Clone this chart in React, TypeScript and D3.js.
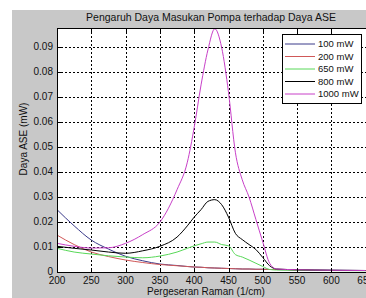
import * as d3 from 'd3';

// Raman shift (1/cm)
const shift = [200, 225, 250, 275, 300, 325, 350, 375, 390, 400, 410, 420, 430, 440, 450, 460, 470, 480, 490, 500, 510, 520, 550, 600, 650, 700];

const p100 = [0.025, 0.0185, 0.0128, 0.0092, 0.0063, 0.0045, 0.0032, 0.0026, 0.0022, 0.002, 0.0019, 0.0017, 0.0016, 0.0015, 0.0014, 0.0013, 0.0012, 0.0012, 0.0011, 0.0011, 0.001, 0.001, 0.0008, 0.0007, 0.0006, 0.0006];
const p200 = [0.0148, 0.011, 0.008, 0.0062, 0.0048, 0.0038, 0.003, 0.0025, 0.0022, 0.002, 0.0019, 0.0017, 0.0016, 0.0015, 0.0014, 0.0013, 0.0012, 0.0012, 0.0011, 0.0011, 0.001, 0.001, 0.0008, 0.0006, 0.0006, 0.0006];
const p650 = [0.0095, 0.008, 0.0072, 0.0065, 0.006, 0.0057, 0.0064, 0.008, 0.0095, 0.0105, 0.0113, 0.012, 0.012, 0.011, 0.0105, 0.007, 0.006, 0.0048, 0.0035, 0.0022, 0.001, 0.0008, 0.0007, 0.0006, 0.0005, 0.0005];
const p800 = [0.0103, 0.0095, 0.0088, 0.008, 0.0075, 0.0085, 0.0103, 0.014, 0.0185, 0.022, 0.025, 0.0283, 0.029, 0.027, 0.022, 0.0155, 0.013, 0.011, 0.009, 0.0058, 0.0025, 0.0012, 0.0009, 0.0007, 0.0006, 0.0006];
const p1000 = [0.0115, 0.0103, 0.0096, 0.0097, 0.0115, 0.015, 0.02, 0.033, 0.044, 0.058, 0.075, 0.089, 0.0975, 0.09, 0.072, 0.048, 0.037, 0.03, 0.021, 0.012, 0.0035, 0.0012, 0.0009, 0.0007, 0.0006, 0.0006];

const seriesNames = ['100 mW', '200 mW', '650 mW', '800 mW', '1000 mW'];
const seriesValues = [p100, p200, p650, p800, p1000];
const seriesColors = ['#3a3a8a', '#d05858', '#58d858', '#000000', '#c840c8'];

const xTicks = [200, 250, 300, 350, 400, 450, 500, 550, 600, 650, 700];
const yTicks = [0, 0.01, 0.02, 0.03, 0.04, 0.05, 0.06, 0.07, 0.08, 0.09];

const px = (v: number) => Math.round(v) + 0.5;

export default function App() {
  document.body.style.margin = '0';
  const W = 366;
  const H = 298;
  const left = 57, top = 28, bottom = 272, right = 400;

  const x = d3.scaleLinear().domain([200, 700]).range([left, right]);
  const y = d3.scaleLinear().domain([0, 0.0978]).range([bottom, top]);

  const line = d3.line<number>()
    .x((_, i) => x(shift[i]))
    .y(d => y(d))
    .curve(d3.curveMonotoneX);

  const font = '"Liberation Sans", Arial, sans-serif';

  return (
    <svg width={W} height={H} style={{ display: 'block' }} fontFamily={font}>
      <rect x={0} y={0} width={W} height={H} fill="#fff" />
      <rect x={12} y={10} width={W - 12} height={H - 10} fill="#c8c8c8" />
      <defs>
        <clipPath id="plot">
          <rect x={left} y={top} width={right - left} height={bottom - top} />
        </clipPath>
      </defs>
      <rect x={left} y={top} width={right - left} height={bottom - top} fill="#fff" />

      {/* grid */}
      {xTicks.slice(1).map(t => (
        <line key={'gx' + t} x1={px(x(t))} x2={px(x(t))} y1={top} y2={bottom} stroke="#000" strokeDasharray="2,2" strokeWidth={1} />
      ))}
      {yTicks.slice(1).map(t => (
        <line key={'gy' + t} x1={left} x2={right} y1={px(y(t))} y2={px(y(t))} stroke="#000" strokeDasharray="2,2" strokeWidth={1} />
      ))}

      {/* series */}
      <g clipPath="url(#plot)">
        {seriesValues.map((vals, i) => (
          <path key={seriesNames[i]} d={line(vals) ?? ''} fill="none" stroke={seriesColors[i]} strokeWidth={1} />
        ))}
      </g>

      {/* axes box and ticks */}
      <rect x={left + 0.5} y={top + 0.5} width={right - left} height={bottom - top} fill="none" stroke="#000" strokeWidth={1} />
      {xTicks.map(t => (
        <g key={'tx' + t}>
          <line x1={px(x(t))} x2={px(x(t))} y1={bottom} y2={bottom - 4} stroke="#000" />
          <line x1={px(x(t))} x2={px(x(t))} y1={top} y2={top + 4} stroke="#000" />
          <text x={x(t)} y={284} fontSize={10} textAnchor="middle" fill="#111">{t}</text>
        </g>
      ))}
      {yTicks.map(t => (
        <g key={'ty' + t}>
          <line x1={left} x2={left + 4} y1={px(y(t))} y2={px(y(t))} stroke="#000" />
          <text x={53} y={y(t) - 1} dy="0.35em" fontSize={10} textAnchor="end" fill="#111">{t === 0 ? '0' : t.toFixed(2)}</text>
        </g>
      ))}

      {/* title and labels */}
      <text x={211} y={21} fontSize={10.5} textAnchor="middle" fill="#111">Pengaruh Daya Masukan Pompa terhadap Daya ASE</text>
      <text x={206} y={295} fontSize={10} textAnchor="middle" fill="#111">Pergeseran Raman (1/cm)</text>
      <text transform="translate(27,139) rotate(-90)" fontSize={10} textAnchor="middle" fill="#111">Daya ASE (mW)</text>

      {/* legend */}
      <rect x={282.5} y={34.5} width={79} height={69} fill="#fff" stroke="#000" strokeWidth={1} />
      {seriesNames.map((name, i) => {
        const ly = 44 + i * 12.5;
        return (
          <g key={'lg' + name}>
            <line x1={285} x2={315} y1={ly} y2={ly} stroke={seriesColors[i]} strokeWidth={1} />
            <text x={318} y={ly} dy="0.35em" fontSize={9.5} fill="#111">{name}</text>
          </g>
        );
      })}
    </svg>
  );
}
